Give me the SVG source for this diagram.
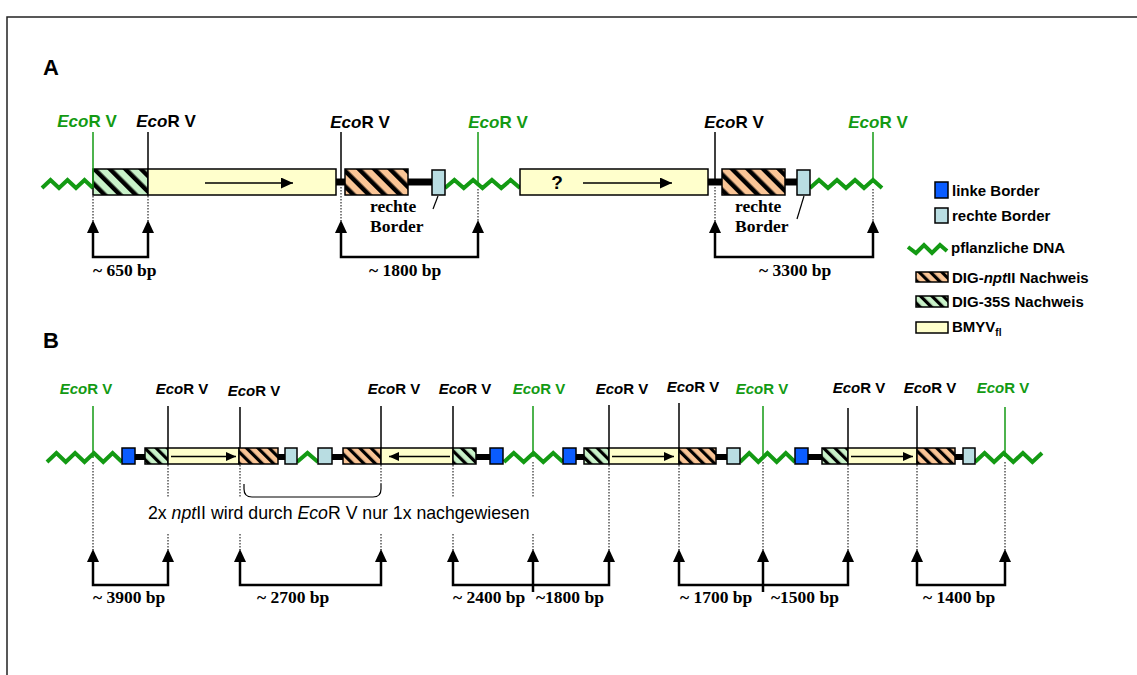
<svg xmlns="http://www.w3.org/2000/svg" width="1137" height="675" viewBox="0 0 1137 675">
<defs>
<style>
.box{stroke:#000;stroke-width:1.5}
.yel{fill:#ffffcc}
.lb{fill:#b9dde2}
.blu{fill:#0a5cff}
.oA{fill:url(#hOA)}
.gA{fill:url(#hGA)}
.oB{fill:url(#hOB)}
.gB{fill:url(#hGB)}
.dna{fill:none;stroke:#139a13;stroke-width:4;stroke-linejoin:miter}
.bbA{stroke:#000;stroke-width:7}
.bbB{stroke:#000;stroke-width:6}
.cut{stroke:#000;stroke-width:1.5}
.cutg{stroke:#139a13;stroke-width:1.5}
.dot{stroke:#000;stroke-width:1;stroke-dasharray:1.5 1.5}
.brk{fill:none;stroke:#000;stroke-width:2.5;marker-start:url(#up);marker-end:url(#up)}
.stem{fill:none;stroke:#000;stroke-width:2.5;marker-end:url(#up)}
.arA{stroke:#000;stroke-width:1.5;marker-end:url(#headA)}
.arB{stroke:#000;stroke-width:1.5;marker-end:url(#headB)}
.eco{font-family:"Liberation Sans",Arial,sans-serif;font-weight:bold;text-anchor:middle}
.ecoA{font-size:17px}
.ecoB{font-size:15px}
.g{fill:#139a13}
.bp{font-family:"Liberation Serif","Times New Roman",serif;font-weight:bold;font-size:17.5px}
.leg{font-family:"Liberation Sans",Arial,sans-serif;font-weight:bold;font-size:15px}
.lab{font-family:"Liberation Sans",Arial,sans-serif;font-weight:bold;font-size:22px}
.note{font-family:"Liberation Sans",Arial,sans-serif;font-size:17.7px}
</style>
<pattern id="hOA" patternUnits="userSpaceOnUse" width="11" height="11" patternTransform="rotate(-45)"><rect width="11" height="11" fill="#fac596"/><rect width="4.5" height="11" fill="#000"/></pattern>
<pattern id="hGA" patternUnits="userSpaceOnUse" width="11" height="11" patternTransform="rotate(-45)"><rect width="11" height="11" fill="#c9f2c9"/><rect width="4.5" height="11" fill="#000"/></pattern>
<pattern id="hOB" patternUnits="userSpaceOnUse" width="8" height="8" patternTransform="rotate(-45)"><rect width="8" height="8" fill="#fac596"/><rect width="3.2" height="8" fill="#000"/></pattern>
<pattern id="hGB" patternUnits="userSpaceOnUse" width="8" height="8" patternTransform="rotate(-45)"><rect width="8" height="8" fill="#c9f2c9"/><rect width="3.2" height="8" fill="#000"/></pattern>
<marker id="up" viewBox="0 0 13 12" refX="0" refY="6" markerWidth="13" markerHeight="12" markerUnits="userSpaceOnUse" orient="auto-start-reverse"><path d="M0,0 L13,6 L0,12 Z" fill="#000"/></marker>
<marker id="headA" viewBox="0 0 12 11" refX="12" refY="5.5" markerWidth="12" markerHeight="11" markerUnits="userSpaceOnUse" orient="auto"><path d="M0,0 L12,5.5 L0,11 Z" fill="#000"/></marker>
<marker id="headB" viewBox="0 0 10 9" refX="10" refY="4.5" markerWidth="10" markerHeight="9" markerUnits="userSpaceOnUse" orient="auto"><path d="M0,0 L10,4.5 L0,9 Z" fill="#000"/></marker>
</defs>
<rect width="1137" height="675" fill="#fff"/>
<path d="M7,675 V17 H1137" fill="none" stroke="#222" stroke-width="1.5"/>

<!-- Panel A -->
<g id="panelA">
<text class="lab" x="43" y="75">A</text>
<g id="a-backbone">
<line class="bbA" x1="336" y1="182" x2="345" y2="182"/>
<line class="bbA" x1="408" y1="182" x2="432" y2="182"/>
<line class="bbA" x1="708" y1="182" x2="722" y2="182"/>
<line class="bbA" x1="785" y1="182" x2="797" y2="182"/>
</g>
<g id="a-dna"><polyline class="dna" points="42,188 50.5,180 59,188 67.5,180 76,188 84.5,180 93,188"/>
<polyline class="dna" points="445,188 454.4,180 463.75,188 473.1,180 482.5,188 491.9,180 501.25,188 510.6,180 520,188"/>
<polyline class="dna" points="810,188 819,180 828,188 837,180 846,188 855,180 864,188 873,180 882,188"/></g>
<g id="a-35s"><rect class="box gA" x="93" y="169" width="55" height="26"/></g>
<g id="a-bmyv1"><rect class="box yel" x="148" y="169" width="188" height="26"/><line class="arA" x1="205" y1="183" x2="293" y2="183"/></g>
<g id="a-npt1"><rect class="box oA" x="345" y="169" width="63" height="26"/></g>
<g id="a-rb1"><rect class="box lb" x="432" y="170" width="13" height="25"/></g>
<g id="a-bmyv2"><rect class="box yel" x="520" y="169" width="188" height="26"/>
<text x="557" y="189" font-family="Liberation Sans, Arial, sans-serif" font-weight="bold" font-size="19" text-anchor="middle">?</text>
<line class="arA" x1="583" y1="183" x2="672" y2="183"/></g>
<g id="a-npt2"><rect class="box oA" x="722" y="169" width="63" height="26"/></g>
<g id="a-rb2"><rect class="box lb" x="797" y="170" width="13" height="25"/></g>
<g id="a-rb-labels">
<text class="bp" x="370" y="212">rechte</text><text class="bp" x="370" y="232">Border</text>
<line x1="438" y1="196" x2="433" y2="209" stroke="#000" stroke-width="1.2"/>
<text class="bp" x="735" y="212">rechte</text><text class="bp" x="735" y="232">Border</text>
<line x1="804" y1="196" x2="797" y2="219" stroke="#000" stroke-width="1.2"/>
</g>
<g id="a-sites">
<line class="cutg" x1="93" y1="132" x2="93" y2="188"/>
<text class="eco ecoA g" x="87" y="127"><tspan font-style="italic">Eco</tspan>R V</text>
<line class="cut" x1="148" y1="132" x2="148" y2="169"/>
<text class="eco ecoA" x="166" y="127"><tspan font-style="italic">Eco</tspan>R V</text>
<line class="cut" x1="341" y1="132" x2="341" y2="179"/>
<text class="eco ecoA" x="360" y="128"><tspan font-style="italic">Eco</tspan>R V</text>
<line class="cutg" x1="478" y1="132" x2="478" y2="184"/>
<text class="eco ecoA g" x="498" y="128"><tspan font-style="italic">Eco</tspan>R V</text>
<line class="cut" x1="715" y1="132" x2="715" y2="179"/>
<text class="eco ecoA" x="734" y="128"><tspan font-style="italic">Eco</tspan>R V</text>
<line class="cutg" x1="873" y1="132" x2="873" y2="182"/>
<text class="eco ecoA g" x="878" y="128"><tspan font-style="italic">Eco</tspan>R V</text>
</g>
</g>

<!-- Legend -->
<g id="legend">
<rect class="box blu" x="935" y="182" width="13" height="16"/><text class="leg" x="952" y="196">linke Border</text>
<rect class="box lb" x="935" y="208" width="13" height="15"/><text class="leg" x="952" y="221">rechte Border</text>
<polyline class="dna" points="908,247 916,253 924,245 932,253 940,245 947,251"/><text class="leg" x="951" y="253">pflanzliche DNA</text>
<rect class="box oB" x="916" y="272" width="32" height="10"/><text class="leg" x="952" y="283">DIG-<tspan font-style="italic">npt</tspan>II Nachweis</text>
<rect class="box gB" x="916" y="296" width="32" height="11"/><text class="leg" x="952" y="307">DIG-35S Nachweis</text>
<rect class="box yel" x="916" y="322" width="32" height="11"/><text class="leg" x="952" y="332">BMYV<tspan font-size="10" dy="4">fl</tspan></text>
</g>

<!-- Panel B -->
<g id="panelB">
<text class="lab" x="43" y="348">B</text>
<g id="b-backbone">
<line class="bbB" x1="135" y1="457" x2="145" y2="457"/>
<line class="bbB" x1="278" y1="457" x2="285" y2="457"/>
<line class="bbB" x1="332" y1="457" x2="343" y2="457"/>
<line class="bbB" x1="476" y1="457" x2="490" y2="457"/>
<line class="bbB" x1="576" y1="457" x2="584" y2="457"/>
<line class="bbB" x1="716" y1="457" x2="727" y2="457"/>
<line class="bbB" x1="808" y1="457" x2="822" y2="457"/>
<line class="bbB" x1="955" y1="457" x2="963" y2="457"/>
</g>
<g id="b-dna">
<polyline class="dna" points="47,462 56.4,453 65.75,462 75.1,453 84.5,462 93.9,453 103.25,462 112.6,453 122,462"/>
<polyline class="dna" points="297,462 307.5,453 318,462"/>
<polyline class="dna" points="504,462 513.8,453 523.7,462 533.5,453 543.3,462 553.2,453 563,462"/>
<polyline class="dna" points="740,462 749.2,453 758.3,462 767.5,453 776.7,462 785.8,453 795,462"/>
<polyline class="dna" points="975,462 984.6,453 994.1,462 1003.7,453 1013.3,462 1022.9,453 1032.4,462 1042,453"/>
</g>
<g id="b-lb1"><rect class="box blu" x="122" y="448" width="13" height="16"/></g>
<g id="b-35s1"><rect class="box gB" x="145" y="448" width="23" height="16"/></g>
<g id="b-bmyv1"><rect class="box yel" x="168" y="448" width="71" height="16"/><line class="arB" x1="171" y1="456.5" x2="236" y2="456.5"/></g>
<g id="b-npt1"><rect class="box oB" x="239" y="448" width="39" height="16"/></g>
<g id="b-rb1"><rect class="box lb" x="285" y="448" width="12" height="16"/></g>
<g id="b-rb2"><rect class="box lb" x="318" y="448" width="14" height="16"/></g>
<g id="b-npt2"><rect class="box oB" x="343" y="448" width="38" height="16"/></g>
<g id="b-bmyv2"><rect class="box yel" x="381" y="448" width="72" height="16"/><line class="arB" x1="450" y1="456.5" x2="389" y2="456.5"/></g>
<g id="b-35s2"><rect class="box gB" x="453" y="448" width="23" height="16"/></g>
<g id="b-lb2"><rect class="box blu" x="490" y="448" width="13" height="16"/></g>
<g id="b-lb3"><rect class="box blu" x="563" y="448" width="13" height="16"/></g>
<g id="b-35s3"><rect class="box gB" x="584" y="448" width="25" height="16"/></g>
<g id="b-bmyv3"><rect class="box yel" x="609" y="448" width="70" height="16"/><line class="arB" x1="612" y1="456.5" x2="674" y2="456.5"/></g>
<g id="b-npt3"><rect class="box oB" x="679" y="448" width="37" height="16"/></g>
<g id="b-rb3"><rect class="box lb" x="727" y="448" width="13" height="16"/></g>
<g id="b-lb4"><rect class="box blu" x="795" y="448" width="13" height="16"/></g>
<g id="b-35s4"><rect class="box gB" x="822" y="448" width="26" height="16"/></g>
<g id="b-bmyv4"><rect class="box yel" x="848" y="448" width="69" height="16"/><line class="arB" x1="851" y1="456.5" x2="913" y2="456.5"/></g>
<g id="b-npt4"><rect class="box oB" x="917" y="448" width="38" height="16"/></g>
<g id="b-rb4"><rect class="box lb" x="963" y="448" width="12" height="16"/></g>

<g id="b-sites">
<line class="cutg" x1="93" y1="406" x2="93" y2="458"/><text class="eco ecoB g" x="86" y="394"><tspan font-style="italic">Eco</tspan>R V</text>
<line class="cut" x1="168" y1="406" x2="168" y2="448"/><text class="eco ecoB" x="182" y="394"><tspan font-style="italic">Eco</tspan>R V</text>
<line class="cut" x1="240" y1="407" x2="240" y2="448"/><text class="eco ecoB" x="254" y="396"><tspan font-style="italic">Eco</tspan>R V</text>
<line class="cut" x1="381" y1="406" x2="381" y2="448"/><text class="eco ecoB" x="394" y="394"><tspan font-style="italic">Eco</tspan>R V</text>
<line class="cut" x1="453" y1="406" x2="453" y2="448"/><text class="eco ecoB" x="465" y="394"><tspan font-style="italic">Eco</tspan>R V</text>
<line class="cutg" x1="533" y1="406" x2="533" y2="457"/><text class="eco ecoB g" x="539" y="394"><tspan font-style="italic">Eco</tspan>R V</text>
<line class="cut" x1="609" y1="405" x2="609" y2="448"/><text class="eco ecoB" x="622" y="394"><tspan font-style="italic">Eco</tspan>R V</text>
<line class="cut" x1="679" y1="403" x2="679" y2="448"/><text class="eco ecoB" x="693" y="392"><tspan font-style="italic">Eco</tspan>R V</text>
<line class="cutg" x1="763" y1="406" x2="763" y2="457"/><text class="eco ecoB g" x="762" y="394"><tspan font-style="italic">Eco</tspan>R V</text>
<line class="cut" x1="848" y1="408" x2="848" y2="448"/><text class="eco ecoB" x="859" y="393"><tspan font-style="italic">Eco</tspan>R V</text>
<line class="cut" x1="917" y1="406" x2="917" y2="448"/><text class="eco ecoB" x="930" y="393"><tspan font-style="italic">Eco</tspan>R V</text>
<line class="cutg" x1="1005" y1="407" x2="1005" y2="457"/><text class="eco ecoB g" x="1003" y="393"><tspan font-style="italic">Eco</tspan>R V</text>
</g>
<g id="b-note">
<path d="M244,484 V489 Q244,497 252,497 H373 Q381,497 381,489 V484" fill="none" stroke="#000" stroke-width="1.2"/>
<text class="note" x="148" y="519">2x <tspan font-style="italic">npt</tspan>II wird durch <tspan font-style="italic">Eco</tspan>R V nur 1x nachgewiesen</text>
</g>
</g>

<!-- Connectors: dotted guides and size brackets -->
<g id="connectors">
<g id="dotted">
<line class="dot" x1="93" y1="196" x2="93" y2="221"/>
<line class="dot" x1="148" y1="196" x2="148" y2="221"/>
<line class="dot" x1="341" y1="187" x2="341" y2="221"/>
<line class="dot" x1="478" y1="189" x2="478" y2="221"/>
<line class="dot" x1="715" y1="187" x2="715" y2="221"/>
<line class="dot" x1="873" y1="189" x2="873" y2="221"/>
<line class="dot" x1="93" y1="462" x2="93" y2="550"/>
<line class="dot" x1="168" y1="465" x2="168" y2="497"/><line class="dot" x1="168" y1="534" x2="168" y2="550"/>
<line class="dot" x1="240" y1="465" x2="240" y2="497"/><line class="dot" x1="240" y1="534" x2="240" y2="550"/>
<line class="dot" x1="381" y1="465" x2="381" y2="484"/><line class="dot" x1="381" y1="534" x2="381" y2="550"/>
<line class="dot" x1="453" y1="465" x2="453" y2="497"/><line class="dot" x1="453" y1="534" x2="453" y2="550"/>
<line class="dot" x1="533" y1="462" x2="533" y2="497"/><line class="dot" x1="533" y1="534" x2="533" y2="550"/>
<line class="dot" x1="609" y1="465" x2="609" y2="550"/>
<line class="dot" x1="679" y1="465" x2="679" y2="550"/>
<line class="dot" x1="763" y1="462" x2="763" y2="550"/>
<line class="dot" x1="848" y1="465" x2="848" y2="550"/>
<line class="dot" x1="917" y1="465" x2="917" y2="550"/>
<line class="dot" x1="1005" y1="462" x2="1005" y2="550"/>
</g>
<g id="brackets">
<path class="brk" d="M93,233 V257 H148 V233"/>
<path class="brk" d="M341,233 V257 H478 V233"/>
<path class="brk" d="M715,233 V257 H873 V233"/>
<path class="brk" d="M93,562 V585 H168 V562"/>
<path class="brk" d="M240,562 V585 H381 V562"/>
<path class="brk" d="M453,562 V585 H609 V562"/>
<path class="stem" d="M533,592 V562"/>
<path class="brk" d="M679,562 V585 H848 V562"/>
<path class="stem" d="M763,592 V562"/>
<path class="brk" d="M917,562 V585 H1005 V562"/>
</g>
<g id="sizes">
<text class="bp" x="93" y="276">~ 650 bp</text>
<text class="bp" x="369" y="276">~ 1800 bp</text>
<text class="bp" x="759" y="276">~ 3300 bp</text>
<text class="bp" x="93" y="603">~ 3900 bp</text>
<text class="bp" x="257" y="603">~ 2700 bp</text>
<text class="bp" x="453" y="603">~ 2400 bp</text>
<text class="bp" x="536" y="603">~1800 bp</text>
<text class="bp" x="680" y="603">~ 1700 bp</text>
<text class="bp" x="771" y="603">~1500 bp</text>
<text class="bp" x="923" y="603">~ 1400 bp</text>
</g>
</g>
</svg>
